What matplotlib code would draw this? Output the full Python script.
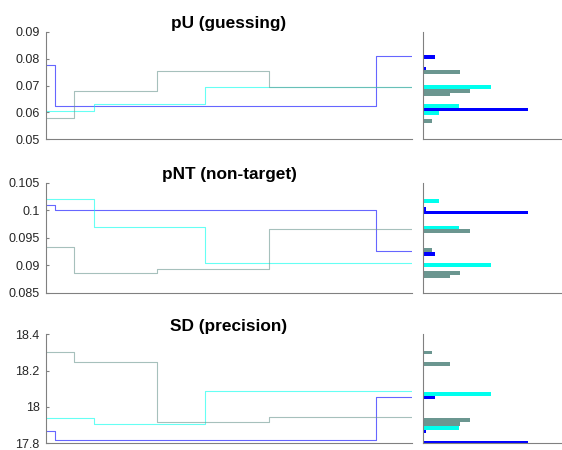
import numpy as np
import matplotlib
matplotlib.use("Agg")
import matplotlib.pyplot as plt

plt.rcParams['font.family'] = ['Liberation Sans', 'DejaVu Sans']

# ---- data ----
n_samples = 1000
titles = ["pU (guessing)", "pNT (non-target)", "SD (precision)"]
series_names = ["blue", "cyan", "grey"]

# change points (sample index) for each chain
change_blue = [0, 25, 902, 1000]
change_cyan = [0, 132, 434, 1000]
change_grey = [0, 76, 303, 608, 1000]

# segment values per parameter
pU_blue = [0.0776, 0.0624, 0.0808]
pU_cyan = [0.0604, 0.0633, 0.0694]
pU_grey = [0.0579, 0.0680, 0.0753, 0.0693]

pNT_blue = [0.1009, 0.1001, 0.0925]
pNT_cyan = [0.1020, 0.0969, 0.09045]
pNT_grey = [0.09336, 0.08858, 0.0893, 0.0965]

SD_blue = [17.868, 17.817, 18.053]
SD_cyan = [17.941, 17.906, 18.088]
SD_grey = [18.301, 18.248, 17.917, 17.943]

# histogram bin centres for each segment
pU_hist_blue = [0.0763, 0.0611, 0.0806]
pU_hist_cyan = [0.0597, 0.0625, 0.0694]
pU_hist_grey = [0.0569, 0.0667, 0.0749, 0.0680]

pNT_hist_blue = [0.10025, 0.09958, 0.09207]
pNT_hist_cyan = [0.10163, 0.09685, 0.08998]
pNT_hist_grey = [0.09272, 0.08794, 0.08863, 0.09616]

SD_hist_blue = [17.865, 17.804, 18.052]
SD_hist_cyan = [17.927, 17.886, 18.073]
SD_hist_grey = [18.300, 18.238, 17.906, 17.927]

ylims = [(0.05, 0.09), (0.085, 0.105), (17.8, 18.4)]
yticks = [[0.05, 0.06, 0.07, 0.08, 0.09],
          [0.085, 0.09, 0.095, 0.1, 0.105],
          [17.8, 18.0, 18.2, 18.4]]
yticklabels = [["0.05", "0.06", "0.07", "0.08", "0.09"],
               ["0.085", "0.09", "0.095", "0.1", "0.105"],
               ["17.8", "18", "18.2", "18.4"]]
bin_widths = [0.00138, 0.00068, 0.0205]

# ---- styles ----
line_colors = {"blue": "#0000ff", "cyan": "#00ffee", "grey": "#6b9690"}
line_alpha = {"blue": 0.6, "cyan": 0.6, "grey": 0.6}
bar_colors = {"blue": "#0000ff", "cyan": "#00ffee", "grey": "#6b9690"}
spine_color = "#808080"
text_color = "#262626"

changes = {"blue": change_blue, "cyan": change_cyan, "grey": change_grey}
values = [
    {"blue": pU_blue, "cyan": pU_cyan, "grey": pU_grey},
    {"blue": pNT_blue, "cyan": pNT_cyan, "grey": pNT_grey},
    {"blue": SD_blue, "cyan": SD_cyan, "grey": SD_grey},
]
hists = [
    {"blue": pU_hist_blue, "cyan": pU_hist_cyan, "grey": pU_hist_grey},
    {"blue": pNT_hist_blue, "cyan": pNT_hist_cyan, "grey": pNT_hist_grey},
    {"blue": SD_hist_blue, "cyan": SD_hist_cyan, "grey": SD_hist_grey},
]

W, H = 562, 450
fig = plt.figure(figsize=(W / 100, H / 100), dpi=100)

rows_px = [(31.67, 139.33), (182.67, 292.67), (334.33, 443.33)]
left_px = (46, 412)
right_px = (423.3, 562)

for i in range(3):
    top, bot = rows_px[i]
    axL = fig.add_axes([left_px[0] / W, 1 - bot / H,
                        (left_px[1] - left_px[0]) / W, (bot - top) / H])
    axR = fig.add_axes([right_px[0] / W, 1 - bot / H,
                        (right_px[1] - right_px[0]) / W, (bot - top) / H])

    for s in series_names:
        cp = changes[s]
        v = values[i][s]
        axL.step(cp, list(v) + [v[-1]], where="post",
                 color=line_colors[s], alpha=line_alpha[s], lw=0.8)

    for s in ["blue", "cyan", "grey"]:
        counts = np.diff(changes[s])
        axR.barh(hists[i][s], counts, height=bin_widths[i],
                 color=bar_colors[s], edgecolor="none", linewidth=0)

    for ax in (axL, axR):
        ax.set_ylim(*ylims[i])
        for sp in ("top", "right"):
            ax.spines[sp].set_visible(False)
        for sp in ("left", "bottom"):
            ax.spines[sp].set_color(spine_color)
            ax.spines[sp].set_linewidth(0.8)
    axL.set_xlim(0, n_samples)
    axR.set_xlim(0, 1160)

    axL.set_xticks([])
    axL.set_yticks(yticks[i])
    axL.set_yticklabels(yticklabels[i])
    axL.tick_params(axis="y", direction="in", length=2.5, width=0.8,
                    color=spine_color, labelcolor=text_color,
                    labelsize=9, pad=4.5)
    axR.set_xticks([])
    axR.set_yticks([])

    axL.set_title(titles[i], fontsize=12.4, fontweight="bold",
                  color="black", pad=2.5)

fig.savefig("out.png", dpi=100)
